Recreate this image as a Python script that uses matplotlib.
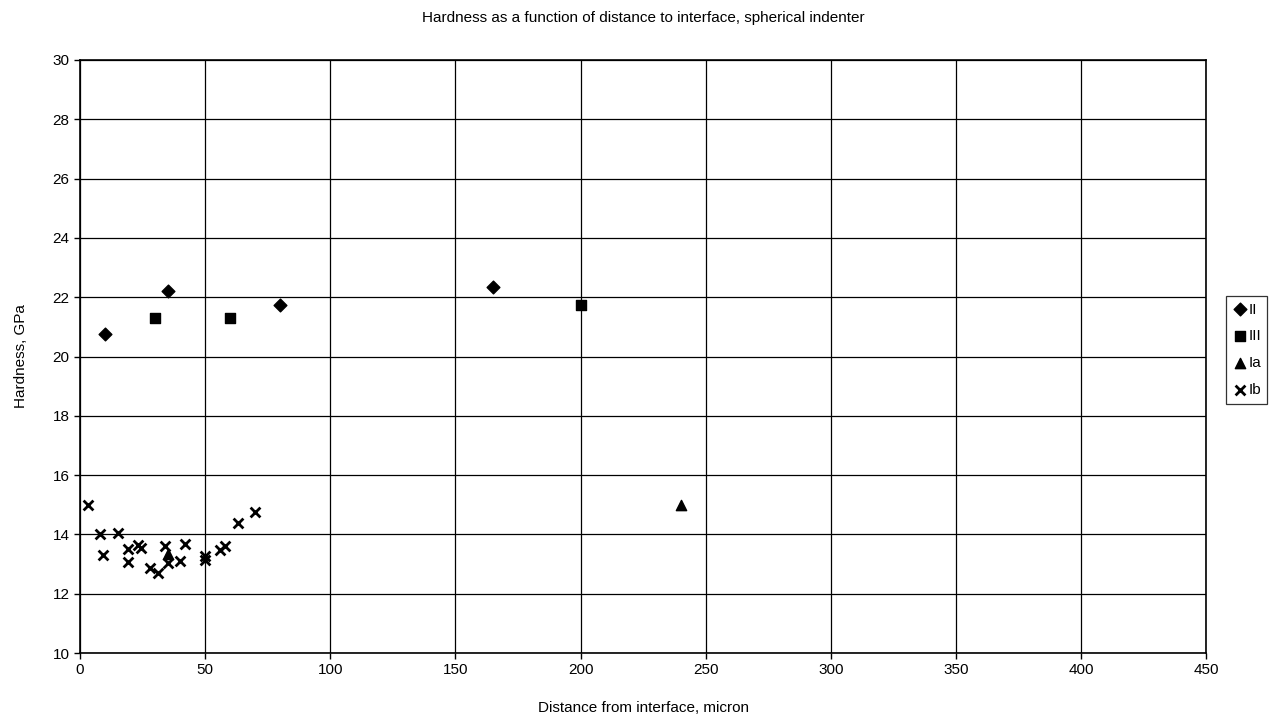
import matplotlib
matplotlib.use("Agg")
import matplotlib.pyplot as plt

plt.rcParams["font.family"] = ["Liberation Sans", "DejaVu Sans"]

# Series II (diamonds)
ii_x = [10, 35, 80, 165]
ii_y = [20.75, 22.22, 21.75, 22.35]

# Series III (squares)
iii_x = [30, 60, 200]
iii_y = [21.3, 21.3, 21.75]

# Series Ia (triangles)
ia_x = [35, 240]
ia_y = [13.35, 15.0]

# Series Ib (crosses)
ib_x = [3, 8, 9, 15, 19, 19, 23, 24.5, 28, 31, 34, 35, 40, 42, 50, 50, 56, 58, 63, 70]
ib_y = [15.0, 14.0, 13.32, 14.05, 13.5, 13.08, 13.65, 13.55, 12.88, 12.7,
        13.6, 13.05, 13.1, 13.68, 13.28, 13.14, 13.48, 13.62, 14.37, 14.75]

fig = plt.figure(figsize=(12.81, 7.2), dpi=100)
ax = fig.add_axes([0.0625, 0.093, 0.879, 0.8237])

ax.scatter(ii_x, ii_y, marker="D", s=42, color="black", label="II", zorder=3)
ax.scatter(iii_x, iii_y, marker="s", s=46, color="black", label="III", zorder=3)
ax.scatter(ia_x, ia_y, marker="^", s=55, color="black", label="Ia", zorder=3)
ax.scatter(ib_x, ib_y, marker="x", s=50, color="black", linewidths=2, label="Ib", zorder=3)

ax.set_xlim(0, 450)
ax.set_ylim(10, 30)
ax.set_xticks(range(0, 451, 50))
ax.set_yticks(range(10, 31, 2))
ax.grid(True, color="black", linewidth=0.9)
ax.set_axisbelow(True)
for s in ax.spines.values():
    s.set_linewidth(1.2)
ax.tick_params(direction="out", length=4, width=1, labelsize=11)

ax.set_title("Hardness as a function of distance to interface, spherical indenter",
             fontsize=11, pad=27)
ax.set_xlabel("Distance from interface, micron", fontsize=11, labelpad=17)
ax.set_ylabel("Hardness, GPa", fontsize=11, labelpad=18)

leg = ax.legend(loc="center left", bbox_to_anchor=(1.018, 0.511), fontsize=11,
                frameon=True, fancybox=False, edgecolor="black", handletextpad=0.05,
                handlelength=1.0, borderpad=0.4, labelspacing=0.85, borderaxespad=0)
leg.get_frame().set_linewidth(0.9)

plt.savefig("out.png", dpi=100)
